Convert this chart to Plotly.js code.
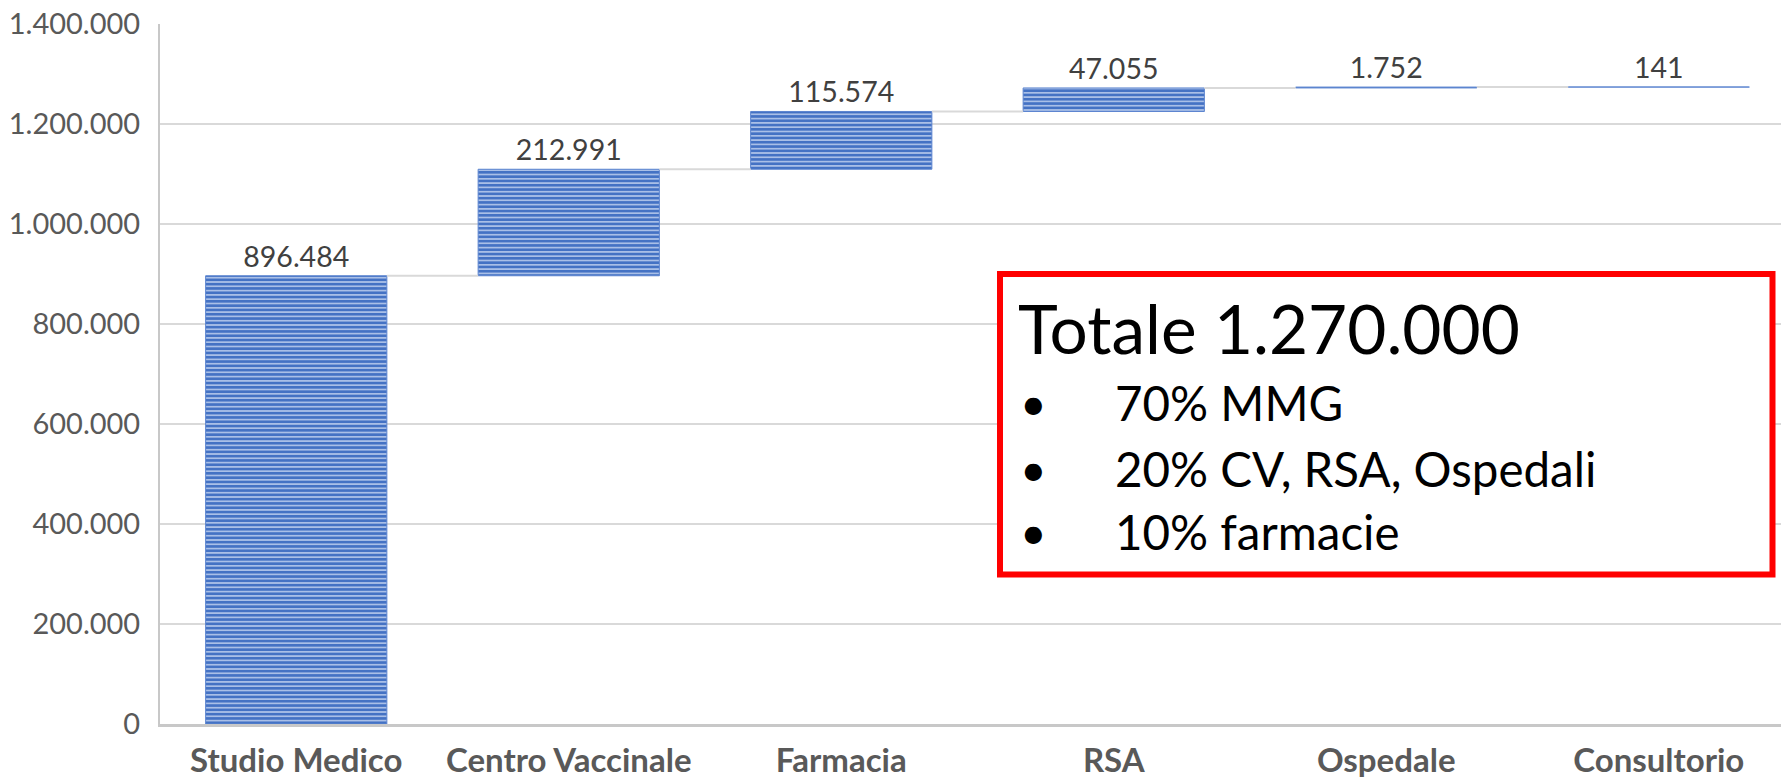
<!DOCTYPE html>
<html><head><meta charset="utf-8">
<script src="https://cdn.plot.ly/plotly-3.0.1.min.js"></script>
<style>html,body{margin:0;padding:0;background:#fff;} #chart{width:1781px;height:781px;}</style>
</head><body><div id="chart"></div>
<script>
// ---- data ----
const categories = ["Studio Medico", "Centro Vaccinale", "Farmacia", "RSA", "Ospedale", "Consultorio"];
const values = [896484, 212991, 115574, 47055, 1752, 141];
const yTickValues = [0, 200000, 400000, 600000, 800000, 1000000, 1200000, 1400000];
const yTickLabels = ["0", "200.000", "400.000", "600.000", "800.000", "1.000.000", "1.200.000", "1.400.000"];
const boxTitle = "Totale 1.270.000";
const boxBullets = ["70% MMG", "20% CV, RSA, Ospedali", "10% farmacie"];

// ---- derived ----
const fmt = n => String(n).replace(/\B(?=(\d{3})+(?!\d))/g, ".");
const positions = categories.map((_, i) => i);
const bases = [];
let run = 0;
values.forEach(v => { bases.push(run); run += v; });
const barWidth = 0.665;
const connX = [], connY = [];
for (let i = 0; i < values.length - 1; i++) {
  const top = bases[i] + values[i];
  connX.push(i + barWidth / 2, i + 1 - barWidth / 2, null);
  connY.push(top, top, null);
}

const W = 1781, H = 781;
const M = {l: 160, r: 0, t: 24, b: 57};
const PW = W - M.l - M.r, PH = H - M.t - M.b;
const px = x => (x - M.l) / PW;
const py = y => (H - M.b - y) / PH;

const FONT = "Lato, 'Open Sans', sans-serif";

const traces = [
  {
    type: "scatter", mode: "lines", x: connX, y: connY,
    line: {color: "#d9d9d9", width: 2}, hoverinfo: "skip", showlegend: false
  },
  {
    type: "bar", x: positions, y: values, base: bases, width: barWidth,
    text: values.map(fmt), textposition: "outside", cliponaxis: false,
    textfont: {family: FONT, size: 28.5, color: "#404040"},
    marker: {
      color: "#4472C4",
      line: {color: "#5b84cf", width: 1},
      pattern: {shape: "-", size: 4.3, solidity: 0.6, fgcolor: "#4472C4", bgcolor: "#a9bfe7"}
    },
    showlegend: false, hoverinfo: "x+y"
  }
];

const annotations = [
  {xref: "paper", yref: "paper", x: px(1016), y: py(327), xanchor: "left", yanchor: "middle",
   text: boxTitle, showarrow: false, font: {family: FONT, size: 67.5, color: "#000000"}}
];
const bulletY = [403, 468, 531];
boxBullets.forEach((b, i) => {
  annotations.push({xref: "paper", yref: "paper", x: px(1018), y: py(bulletY[i]), xanchor: "left", yanchor: "middle",
    text: "•", showarrow: false, font: {family: FONT, size: 46, color: "#000000"}});
  annotations.push({xref: "paper", yref: "paper", x: px(1113), y: py(bulletY[i]), xanchor: "left", yanchor: "middle",
    text: b, showarrow: false, font: {family: FONT, size: 47.5, color: "#000000"}});
});

const layout = {
  width: W, height: H, margin: M,
  paper_bgcolor: "#ffffff", plot_bgcolor: "#ffffff",
  showlegend: false, bargap: 0,
  xaxis: {
    type: "linear", range: [-0.5, -0.5 + PW / 272.5],
    tickmode: "array", tickvals: positions, ticktext: categories,
    showgrid: false, zeroline: false, showline: true, linecolor: "#c8c8c8", linewidth: 3,
    ticks: "", ticklabelstandoff: 5, automargin: false,
    tickfont: {family: FONT, size: 33, color: "#595959", weight: "bold"}
  },
  yaxis: {
    range: [0, 1400000], tickmode: "array", tickvals: yTickValues, ticktext: yTickLabels,
    showgrid: true, gridcolor: "#d9d9d9", gridwidth: 1.5, zeroline: false,
    showline: true, linecolor: "#c8c8c8", linewidth: 2,
    ticks: "", ticklabelstandoff: 12, automargin: false,
    tickfont: {family: FONT, size: 29, color: "#595959"}
  },
  shapes: [
    {type: "rect", xref: "paper", yref: "paper", x0: px(1000), x1: px(1772.5), y0: py(274), y1: py(574.5),
     line: {color: "#ff0000", width: 6}, fillcolor: "#ffffff", layer: "above"}
  ],
  annotations: annotations
};

Plotly.newPlot("chart", traces, layout, {staticPlot: true, displayModeBar: false});
</script>
</body></html>
